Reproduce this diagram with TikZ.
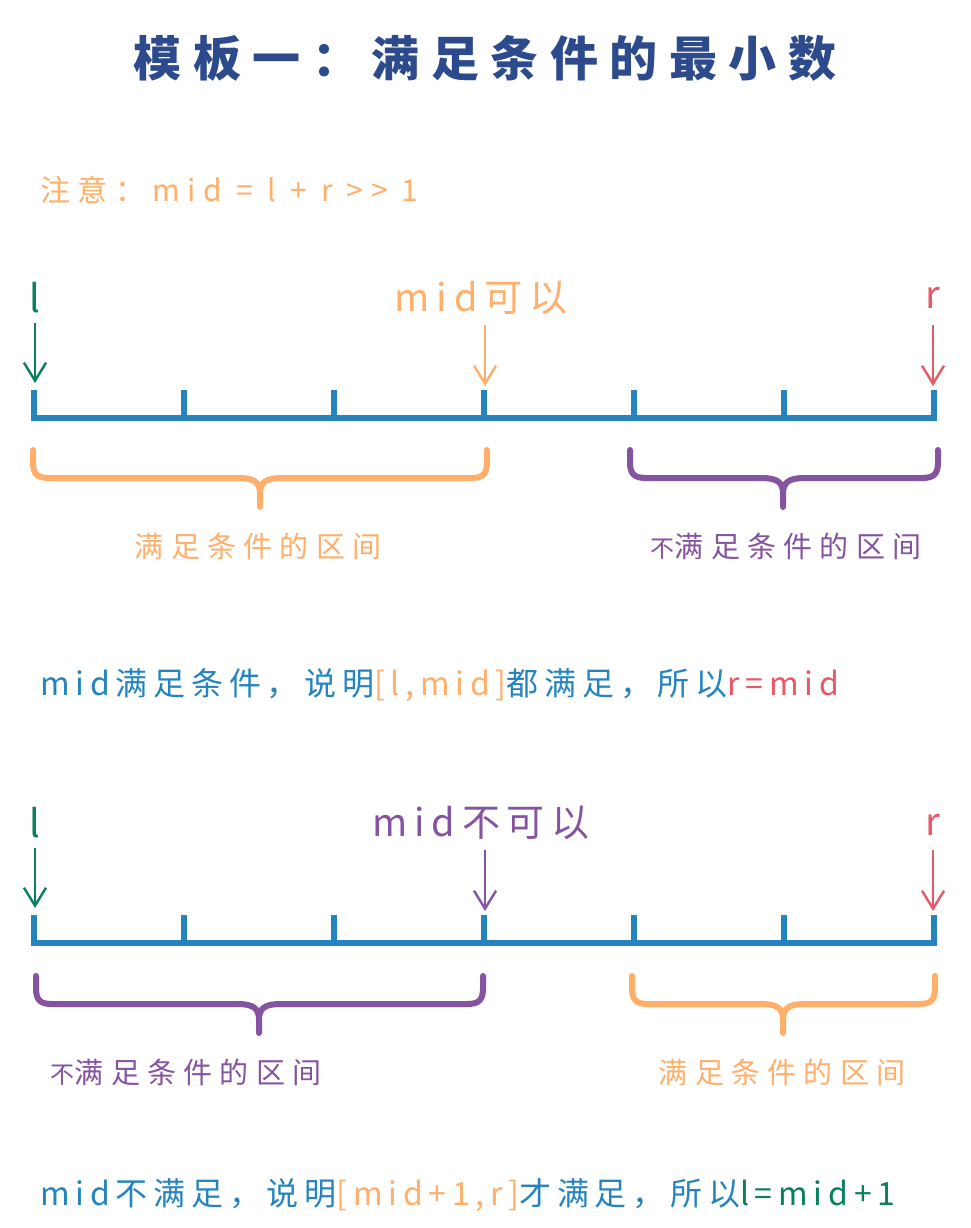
\documentclass[tikz,border=0pt]{standalone}
\usepackage{fontspec}
\usetikzlibrary{arrows.meta}
\newfontfamily\hand[LetterSpace=18]{Noto Sans CJK SC}
\newfontfamily\handwide[LetterSpace=25]{Noto Sans CJK SC}
\newfontfamily\handtitle[LetterSpace=24]{Noto Sans CJK SC}
\definecolor{ttl}{HTML}{2C4A8C}
\definecolor{lblue}{HTML}{2584BE}
\definecolor{lgreen}{HTML}{0A7F5F}
\definecolor{lred}{HTML}{E8586A}
\definecolor{lorange}{HTML}{FFAF6A}
\definecolor{lpurple}{HTML}{8553A0}
\tikzset{
  txt/.style={inner sep=0pt, font=\hand\fontsize{#1}{#1}\selectfont},
  wtxt/.style={inner sep=0pt, font=\handwide\fontsize{#1}{#1}\selectfont},
  ptr/.style={draw=#1, line width=2.4pt, -{Straight Barb[length=18pt,width=22pt,line width=2.4pt]}},
  axis/.style={draw=lblue, line width=6pt},
  tick/.style={draw=lblue, line width=6pt},
  brace/.style={draw=#1, line width=6pt, line cap=round, line join=round},
}
\newcommand{\mybrace}[5]{% color, a, b, c, y0
  \draw[brace=#1] (#2,#5) -- (#2,#5+12) .. controls (#2,#5+24) and (#2+4,#5+28) .. (#2+16,#5+28) -- (#4-22,#5+28) .. controls (#4-6,#5+28) and (#4,#5+32) .. (#4,#5+44) -- (#4,#5+57);
  \draw[brace=#1] (#3,#5) -- (#3,#5+12) .. controls (#3,#5+24) and (#3-4,#5+28) .. (#3-16,#5+28) -- (#4+22,#5+28) .. controls (#4+6,#5+28) and (#4,#5+32) .. (#4,#5+44);
}
\newcommand{\bu}{{\fontsize{24}{24}\selectfont 不}}
\begin{document}
\begin{tikzpicture}[x=1pt,y=-1pt]
\useasboundingbox[fill=white] (0,0) rectangle (971,1228);

% title
\node[inner sep=0pt, text=ttl, font=\handtitle\bfseries\fontsize{48}{48}\selectfont] (title) at (485,58) {模板一：满足条件的最小数};

\node[wtxt=30, text=lorange, anchor=west] (note) at (40,190) {注意：mid = l + r >> 1};

% ---------- top diagram ----------
\node[txt=38, text=lgreen] (l1) at (35,298) {l};
\node[txt=38, text=lorange] (m1) at (481,298) {mid可以};
\node[txt=38, text=lred] (r1) at (933,298) {r};
\coordinate (l1s) at (35,323); \coordinate (l1e) at (35,383);
\coordinate (m1s) at (485,325); \coordinate (m1e) at (485,386);
\coordinate (r1s) at (933,325); \coordinate (r1e) at (933,386);
\draw[ptr=lgreen] (l1s) -- (l1e);
\draw[ptr=lorange] (m1s) -- (m1e);
\draw[ptr=lred] (r1s) -- (r1e);

\coordinate (a1L) at (31,418); \coordinate (a1R) at (937,418);
\draw[axis] (a1L) -- (a1R);
\foreach \x in {34,184,334,484,634,784,934} \draw[tick] (\x,390) -- (\x,418);

\mybrace{lorange}{33}{487}{260}{450}
\mybrace{lpurple}{630}{938}{783}{450}

\node[wtxt=29, text=lorange] (s1) at (258,546) {满足条件的区间};
\node[wtxt=29, text=lpurple] (u1) at (786,546) {\bu 满足条件的区间};

\node[txt=32, text=lblue, anchor=west] (c1) at (40,685) {mid满足条件，说明\textcolor{lorange}{[l,mid]}都满足，所以\textcolor{lred}{r=mid}};

% ---------- bottom diagram ----------
\node[txt=38, text=lgreen] (l2) at (35,823) {l};
\node[txt=38, text=lpurple] (m2) at (481,823) {mid不可以};
\node[txt=38, text=lred] (r2) at (933,825) {r};
\coordinate (l2s) at (35,848); \coordinate (l2e) at (35,908);
\coordinate (m2s) at (485,850); \coordinate (m2e) at (485,911);
\coordinate (r2s) at (933,850); \coordinate (r2e) at (933,911);
\draw[ptr=lgreen] (l2s) -- (l2e);
\draw[ptr=lpurple] (m2s) -- (m2e);
\draw[ptr=lred] (r2s) -- (r2e);

\coordinate (a2L) at (31,943); \coordinate (a2R) at (937,943);
\draw[axis] (a2L) -- (a2R);
\foreach \x in {34,184,334,484,634,784,934} \draw[tick] (\x,915) -- (\x,943);

\mybrace{lpurple}{36}{483}{259}{976}
\mybrace{lorange}{632}{935}{783}{976}

\node[wtxt=29, text=lpurple] (u2) at (186,1072) {\bu 满足条件的区间};
\node[wtxt=29, text=lorange] (s2) at (782,1072) {满足条件的区间};

\node[txt=32, text=lblue, anchor=west] (c2) at (40,1195) {mid不满足，说明\textcolor{lorange}{[mid+1,r]}才满足，所以\textcolor{lgreen}{l=mid+1}};
\end{tikzpicture}
\end{document}
